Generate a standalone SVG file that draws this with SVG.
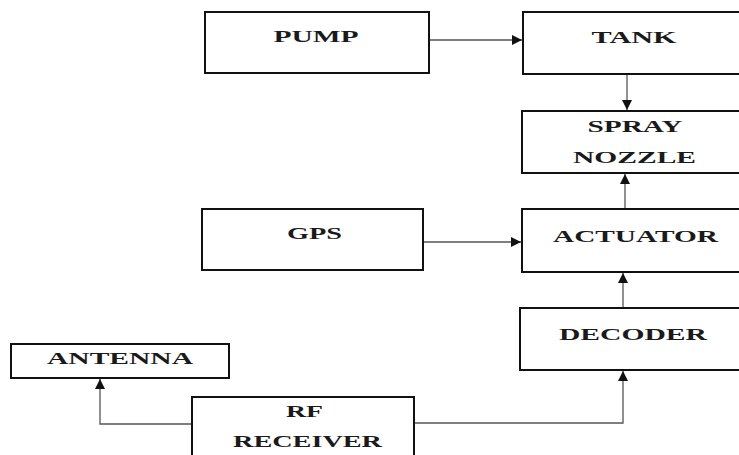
<svg xmlns="http://www.w3.org/2000/svg" width="739" height="455" viewBox="0 0 739 455">
<style>
.box{fill:#fff;stroke:#111;stroke-width:2}
.lbl{font-family:"Liberation Serif","Times New Roman",serif;font-weight:bold;font-size:16px;fill:#1a1a1a;text-anchor:middle}
.wire{fill:none;stroke:#555;stroke-width:1.3}
</style>
<defs>
<marker id="ah" markerUnits="userSpaceOnUse" markerWidth="11" markerHeight="10" refX="10" refY="5" orient="auto">
<path d="M0,0 L10,5 L0,10 z" fill="#111"/>
</marker>
</defs>
<rect width="739" height="455" fill="#fff"/>
<g id="connectors">
<line class="wire" x1="429" y1="40" x2="522" y2="40" marker-end="url(#ah)"/>
<line class="wire" x1="627" y1="74" x2="627" y2="110" marker-end="url(#ah)"/>
<line class="wire" x1="625" y1="209" x2="625" y2="174" marker-end="url(#ah)"/>
<line class="wire" x1="423" y1="242" x2="521" y2="242" marker-end="url(#ah)"/>
<line class="wire" x1="623" y1="308" x2="623" y2="273" marker-end="url(#ah)"/>
<polyline class="wire" points="414,423 623,423 623,371" marker-end="url(#ah)"/>
<polyline class="wire" points="192,424 100,424 100,379" marker-end="url(#ah)"/>
</g>
<g id="pump">
<rect class="box" x="205" y="12" width="224" height="61"/>
<text class="lbl" x="316" y="42" textLength="85" lengthAdjust="spacingAndGlyphs">PUMP</text>
</g>
<g id="tank">
<rect class="box" x="523" y="12" width="224" height="62"/>
<text class="lbl" x="634" y="43" textLength="85" lengthAdjust="spacingAndGlyphs">TANK</text>
</g>
<g id="spray-nozzle">
<rect class="box" x="522" y="111" width="225" height="62"/>
<text class="lbl" x="635" y="132" textLength="95" lengthAdjust="spacingAndGlyphs">SPRAY</text>
<text class="lbl" x="634.5" y="163" textLength="123" lengthAdjust="spacingAndGlyphs">NOZZLE</text>
</g>
<g id="gps">
<rect class="box" x="202" y="209" width="221" height="61"/>
<text class="lbl" x="314.5" y="239" textLength="55" lengthAdjust="spacingAndGlyphs">GPS</text>
</g>
<g id="actuator">
<rect class="box" x="522" y="209" width="225" height="63"/>
<text class="lbl" x="635.5" y="242" textLength="165" lengthAdjust="spacingAndGlyphs">ACTUATOR</text>
</g>
<g id="decoder">
<rect class="box" x="520" y="308" width="227" height="62"/>
<text class="lbl" x="633" y="340" textLength="148" lengthAdjust="spacingAndGlyphs">DECODER</text>
</g>
<g id="antenna">
<rect class="box" x="11" y="344" width="218" height="34"/>
<text class="lbl" x="120" y="364" textLength="146" lengthAdjust="spacingAndGlyphs">ANTENNA</text>
</g>
<g id="rf-receiver">
<rect class="box" x="192" y="397" width="222" height="70"/>
<text class="lbl" x="304.5" y="417" textLength="37" lengthAdjust="spacingAndGlyphs">RF</text>
<text class="lbl" x="307.5" y="447" textLength="149" lengthAdjust="spacingAndGlyphs">RECEIVER</text>
</g>
</svg>
